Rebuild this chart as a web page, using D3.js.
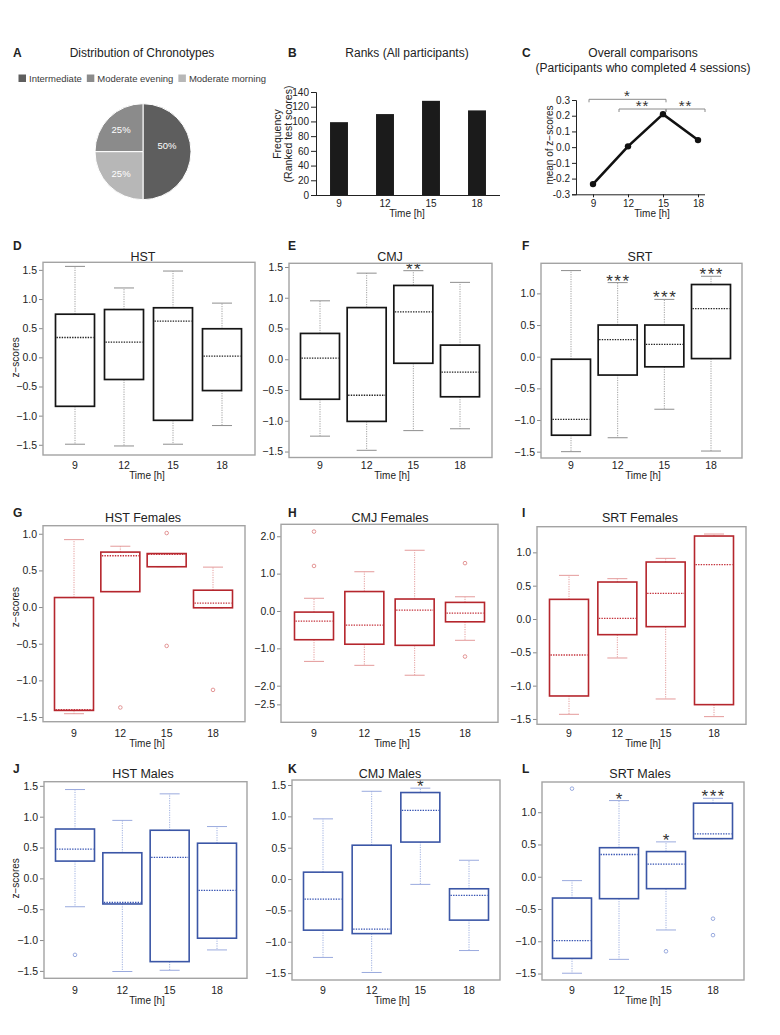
<!DOCTYPE html>
<html><head><meta charset="utf-8">
<script src="https://cdn.jsdelivr.net/npm/d3@7"></script>
<style>body{margin:0;background:#fff}</style>
</head><body><svg id="fig" width="780" height="1035"></svg>
<script>
// ---------------- DATA ----------------
const times = ["9","12","15","18"];
const chronotypes = ["Intermediate","Moderate evening","Moderate morning"];
const chronoShares = [50,25,25];
const rankFreq = [99,110,128,115];
const rankTicks = [0,20,40,60,80,100,120,140];
const meanZ = [-0.235,0.005,0.21,0.045];
const meanTicks = [-0.3,-0.2,-0.1,0,0.1,0.2,0.3];
const sigPairs = [["9","15","*"],["12","15","**"],["15","18","**"]];
// box stats: [lower whisker, Q1, median, Q3, upper whisker]
const hstAll = [[-1.49,-0.84,0.34,0.74,1.56],[-1.52,-0.38,0.26,0.82,1.19],[-1.49,-1.08,0.62,0.85,1.48],[-1.17,-0.57,0.02,0.49,0.93]];
const cmjAll = [[-1.25,-0.65,0.02,0.42,0.95],[-1.48,-1.01,-0.585,0.84,1.40],[-1.16,-0.065,0.77,1.20,1.44],[-1.13,-0.61,-0.21,0.23,1.25]];
const srtAll = [[-1.50,-1.24,-0.99,-0.04,1.36],[-1.28,-0.29,0.27,0.50,1.17],[-0.83,-0.16,0.195,0.50,0.905],[-1.49,-0.03,0.76,1.14,1.27]];
const hstF = [[-1.455,-1.41,-1.40,0.13,0.92],[0.21,0.21,0.70,0.75,0.83],[0.55,0.55,0.72,0.73,0.73],[-0.01,-0.01,0.055,0.23,0.545]];
const hstFOut = [[],[-1.37],[1.01,-0.53],[-1.13]];
const cmjF = [[-1.35,-0.77,-0.27,-0.03,0.34],[-1.455,-0.89,-0.38,0.52,1.05],[-1.72,-0.92,0.02,0.32,1.625],[-0.785,-0.29,-0.06,0.23,0.38]];
const cmjFOut = [[2.125,1.205],[],[],[1.28,-1.22]];
const srtF = [[-1.43,-1.155,-0.54,0.295,0.655],[-0.585,-0.235,0.01,0.555,0.605],[-1.2,-0.115,0.385,0.855,0.91],[-1.465,-1.285,0.815,1.245,1.275]];
const hstM = [[-0.46,0.28,0.475,0.80,1.44],[-1.51,-0.415,-0.39,0.415,0.94],[-1.49,-1.35,0.34,0.78,1.37],[-1.16,-0.97,-0.195,0.57,0.84]];
const hstMOut = [[-1.24],[],[],[]];
const cmjM = [[-1.25,-0.815,-0.32,0.11,0.96],[-1.49,-0.87,-0.80,0.54,1.40],[-0.085,0.59,1.095,1.38,1.45],[-1.14,-0.655,-0.26,-0.155,0.30]];
const srtM = [[-1.495,-1.265,-0.99,-0.33,-0.06],[-1.28,-0.34,0.345,0.45,1.18],[-0.825,-0.185,0.195,0.39,0.54],[0.59,0.59,0.665,1.14,1.215]];
const srtMOut = [[1.365],[],[-1.155],[-0.65,-0.905]];
const cmjAllStars = ["","","**",""];
const srtAllStars = ["","***","***","***"];
const cmjMStars = ["","","*",""];
const srtMStars = ["","*","*","***"];
const zTicks = [-1.5,-1,-0.5,0,0.5,1,1.5];
const zTicksCmjF = [-2.5,-2,-1,0,1,2];

// ---------------- HELPERS ----------------
const FONT = '"Liberation Sans", Arial, Helvetica, sans-serif';
const svg = d3.select("#fig").attr("font-family", FONT);
function txt(g, x, y, s, o = {}) {
  const t = g.append("text").attr("x", x).attr("y", y).text(s)
    .attr("font-size", o.size || 10).attr("fill", o.fill || "#222")
    .attr("text-anchor", o.anchor || "middle");
  if (o.weight) t.attr("font-weight", o.weight);
  if (o.rotate) t.attr("transform", `rotate(-90,${x},${y})`);
  if (o.ls) t.attr("letter-spacing", o.ls);
  return t;
}
function styleAxis(ax, color, size) {
  ax.attr("font-family", FONT).attr("font-size", size);
  ax.select(".domain").attr("stroke", color);
  ax.selectAll(".tick line").attr("stroke", color);
  ax.selectAll(".tick text").attr("fill", "#222");
}
const hyphenFmt = d => d3.format(".1f")(d).replace("\u2212", "-");

// ---------------- PANEL A ----------------
const gA = svg.append("g");
txt(gA, 13, 56.5, "A", {size: 12, weight: "bold", anchor: "start"});
txt(gA, 142, 56.5, "Distribution of Chronotypes", {size: 12});
const pieColor = d3.scaleOrdinal().domain(chronotypes).range(["#5e5e5e", "#8b8b8b", "#b7b7b7"]);
let lx = 18.5;
chronotypes.forEach(c => {
  gA.append("rect").attr("x", lx).attr("y", 74.5).attr("width", 7.5).attr("height", 7.5).attr("fill", pieColor(c));
  const t = txt(gA, lx + 10.5, 82, c, {size: 9.5, anchor: "start", fill: "#3a3a3a"});
  lx = lx + 10.5 + t.node().getComputedTextLength() + 5;
});
const R = 48;
const pieGen = d3.pie().sort(null).value(d => d).startAngle(Math.PI).endAngle(-Math.PI);
const arcs = pieGen(chronoShares);
const arcG = d3.arc().innerRadius(0).outerRadius(R);
const gP = gA.append("g").attr("transform", "translate(143,151.7)");
gP.selectAll("path").data(arcs).join("path").attr("d", arcG)
  .attr("fill", (d, i) => pieColor(chronotypes[i])).attr("stroke", "#fff").attr("stroke-width", 1);
gP.selectAll("text").data(arcs).join("text")
  .attr("transform", d => {
    const lr = d.data >= 50 ? 24 : 31;
    const c = d3.arc().innerRadius(lr).outerRadius(lr).centroid(d);
    return `translate(${c[0]},${c[1] - (d.data >= 50 ? 6 : 0)})`;
  })
  .attr("dy", "0.35em").attr("text-anchor", "middle").attr("font-size", 9.5).attr("fill", "#fff")
  .text(d => d.data + "%");

// ---------------- PANEL B ----------------
const gB = svg.append("g");
txt(gB, 288, 56.5, "B", {size: 12, weight: "bold", anchor: "start"});
txt(gB, 407, 56.5, "Ranks (All participants)", {size: 12});
const xB = d3.scaleBand().domain(times).range([316, 500]).paddingInner(0.61).paddingOuter(0.305);
const yB = d3.scaleLinear().domain([0, 140]).range([195, 92]);
gB.selectAll("rect.bar").data(rankFreq).join("rect").attr("class", "bar")
  .attr("x", (d, i) => xB(times[i])).attr("width", xB.bandwidth())
  .attr("y", d => yB(d)).attr("height", d => yB(0) - yB(d)).attr("fill", "#1b1b1b");
const axB = gB.append("g").attr("transform", "translate(316,0)")
  .call(d3.axisLeft(yB).tickValues(rankTicks).tickSize(5).tickPadding(2));
styleAxis(axB, "#222", 10);
gB.append("line").attr("x1", 316).attr("x2", 500).attr("y1", yB(0) + 0.5).attr("y2", yB(0) + 0.5).attr("stroke", "#222");
times.forEach(t => txt(gB, xB(t) + xB.bandwidth() / 2, 206.5, t, {size: 10}));
txt(gB, 407, 217, "Time [h]", {size: 10});
txt(gB, 281, 134, "Frequency", {size: 10.5, rotate: true});
txt(gB, 291.5, 134, "(Ranked test scores)", {size: 10.5, rotate: true});

// ---------------- PANEL C ----------------
const gC = svg.append("g");
txt(gC, 522, 56.5, "C", {size: 12, weight: "bold", anchor: "start"});
txt(gC, 643, 56.5, "Overall comparisons", {size: 12});
txt(gC, 643, 71.5, "(Participants who completed 4 sessions)", {size: 12});
const xC = d3.scalePoint().domain(times).range([593, 698]);
const yC = d3.scaleLinear().domain([-0.3, 0.3]).range([194.3, 100]);
const axC = gC.append("g").attr("transform", "translate(576,0)")
  .call(d3.axisLeft(yC).tickValues(meanTicks).tickSize(4).tickPadding(2).tickFormat(hyphenFmt));
styleAxis(axC, "#222", 10);
const axCx = gC.append("g").attr("transform", `translate(0,${yC(-0.3)})`)
  .call(d3.axisBottom(xC).tickSize(3).tickPadding(3));
styleAxis(axCx, "#222", 10);
axCx.select(".domain").attr("d", `M576,0.5H705`);
txt(gC, 652, 217, "Time [h]", {size: 10});
txt(gC, 553, 145, "mean of z\u2212scores", {size: 10, rotate: true});
gC.append("path").datum(meanZ)
  .attr("d", d3.line().x((d, i) => xC(times[i])).y(d => yC(d)))
  .attr("fill", "none").attr("stroke", "#111").attr("stroke-width", 2.6);
gC.selectAll("circle").data(meanZ).join("circle")
  .attr("cx", (d, i) => xC(times[i])).attr("cy", d => yC(d)).attr("r", 3.2).attr("fill", "#111");
const sigLayout = [{lvl: 0, a: -4, b: 3}, {lvl: 1, a: -9, b: 3}, {lvl: 1, a: 3, b: 7}];
sigPairs.forEach((s, i) => {
  const L = sigLayout[i];
  const yy = yC(0.3) - 0.7 + L.lvl * 9.7;
  const x1 = xC(s[0]) + L.a, x2 = xC(s[1]) + L.b;
  gC.append("path").attr("d", `M${x1},${yy + 3}V${yy}H${x2}V${yy + 3}`)
    .attr("fill", "none").attr("stroke", "#8a8a8a").attr("stroke-width", 1);
  txt(gC, (x1 + x2) / 2, yy + 2, s[2], {size: 15, fill: "#333", ls: 1});
});

// ---------------- BOX PANELS ----------------
const themes = {
  black: {box: "#151515", whisker: "#a0a0a0", cap: "#8e8e8e", median: "#222", out: "#888", bw: 1.7},
  red: {box: "#b5262d", whisker: "#e39c9c", cap: "#e49a9a", median: "#c4303a", out: "#e08a8a", bw: 1.6},
  blue: {box: "#3b56a6", whisker: "#9fb0e0", cap: "#9aaade", median: "#3552b2", out: "#8ea2da", bw: 1.6}
};
const rows = [
  {letterY: 250, titleY: 260.5, tickY: 468.5, timeY: 478.5},
  {letterY: 517, titleY: 521.5, tickY: 736.5, timeY: 746.5},
  {letterY: 773, titleY: 777.5, tickY: 993.5, timeY: 1004}
];
const letterX = [13, 288, 522], titleX = [143, 390, 640], timeX = [147, 392, 643];
const boxPanels = [
  {L: "D", title: "HST", data: hstAll, theme: "black", col: 0, row: 0, fx: [43, 255], fy: [262.3, 455], cx: [75, 222], dom: [-1.675, 1.63], ylab: true},
  {L: "E", title: "CMJ", data: cmjAll, stars: cmjAllStars, theme: "black", col: 1, row: 0, fx: [289, 492], fy: [263.3, 457.5], cx: [320, 460], dom: [-1.597, 1.56]},
  {L: "F", title: "SRT", data: srtAll, stars: srtAllStars, theme: "black", col: 2, row: 0, fx: [541, 742], fy: [263.3, 458], cx: [571, 711], dom: [-1.6, 1.475]},
  {L: "G", title: "HST Females", data: hstF, out: hstFOut, theme: "red", col: 0, row: 1, fx: [43, 245], fy: [525.7, 721.7], cx: [74, 213], dom: [-1.564, 1.11], ylab: true},
  {L: "H", title: "CMJ Females", data: cmjF, out: cmjFOut, theme: "red", col: 1, row: 1, fx: [281, 498], fy: [524.3, 722.3], cx: [314, 465], dom: [-2.98, 2.32], ticks: zTicksCmjF},
  {L: "I", title: "SRT Females", data: srtF, theme: "red", col: 2, row: 1, fx: [537, 746], fy: [526.7, 724.3], cx: [569, 714], dom: [-1.58, 1.385]},
  {L: "J", title: "HST Males", data: hstM, out: hstMOut, theme: "blue", col: 0, row: 2, fx: [44, 247], fy: [781.7, 978.3], cx: [75, 217], dom: [-1.62, 1.567], ylab: true},
  {L: "K", title: "CMJ Males", data: cmjM, stars: cmjMStars, theme: "blue", col: 1, row: 2, fx: [292, 500], fy: [780, 980], cx: [323, 469], dom: [-1.61, 1.58]},
  {L: "L", title: "SRT Males", data: srtM, out: srtMOut, stars: srtMStars, theme: "blue", col: 2, row: 2, fx: [542, 744], fy: [782, 980], cx: [572, 713], dom: [-1.60, 1.468]}
];

function drawBox(p) {
  const g = svg.append("g");
  const th = themes[p.theme];
  const rw = rows[p.row];
  const y = d3.scaleLinear().domain(p.dom).range([p.fy[1], p.fy[0]]);
  const x = d3.scalePoint().domain(times).range(p.cx);
  const ticks = (p.ticks || zTicks).filter(t => t >= p.dom[0] && t <= p.dom[1]);
  const ax = g.append("g").attr("transform", `translate(${p.fx[0]},0)`)
    .call(d3.axisLeft(y).tickValues(ticks).tickSize(4).tickPadding(2).tickFormat(d3.format(".1f")));
  styleAxis(ax, "#8a8a8a", 10.5);
  ax.select(".domain").remove();
  times.forEach(t => txt(g, x(t), rw.tickY, t, {size: 10.5}));
  txt(g, timeX[p.col], rw.timeY, "Time [h]", {size: 10});
  txt(g, titleX[p.col], rw.titleY, p.title, {size: 12.5});
  txt(g, letterX[p.col], rw.letterY, p.L, {size: 12, weight: "bold", anchor: "start"});
  if (p.ylab) txt(g, 19.5, y(0), "z\u2212scores", {size: 10, rotate: true});

  const bw = 39, cw = 20;
  const box = g.selectAll("g.box").data(p.data).join("g").attr("class", "box")
    .attr("transform", (d, i) => `translate(${x(times[i])},0)`);
  // whiskers
  box.append("line").attr("y1", d => y(d[3])).attr("y2", d => y(d[4]))
    .attr("stroke", th.whisker).attr("stroke-dasharray", "1.2,1.2");
  box.append("line").attr("y1", d => y(d[1])).attr("y2", d => y(d[0]))
    .attr("stroke", th.whisker).attr("stroke-dasharray", "1.2,1.2");
  // caps
  box.append("line").attr("x1", -cw / 2).attr("x2", cw / 2).attr("y1", d => y(d[4])).attr("y2", d => y(d[4]))
    .attr("stroke", th.cap);
  box.append("line").attr("x1", -cw / 2).attr("x2", cw / 2).attr("y1", d => y(d[0])).attr("y2", d => y(d[0]))
    .attr("stroke", th.cap);
  // box
  box.append("rect").attr("x", -bw / 2).attr("width", bw)
    .attr("y", d => y(d[3])).attr("height", d => Math.max(0.5, y(d[1]) - y(d[3])))
    .attr("fill", "none").attr("stroke", th.box).attr("stroke-width", th.bw);
  // median
  box.append("line").attr("x1", -bw / 2 + 1).attr("x2", bw / 2 - 1).attr("y1", d => y(d[2])).attr("y2", d => y(d[2]))
    .attr("stroke", th.median).attr("stroke-width", 1.3).attr("stroke-dasharray", "1.4,1.2");
  // outliers
  if (p.out) {
    box.each(function (d, i) {
      d3.select(this).selectAll("circle").data(p.out[i]).join("circle")
        .attr("cx", 0).attr("cy", v => y(v)).attr("r", 1.8)
        .attr("fill", "none").attr("stroke", th.out).attr("stroke-width", 0.9);
    });
  }
  // stars
  if (p.stars) {
    box.append("text").attr("text-anchor", "middle").attr("font-size", 17).attr("letter-spacing", 1.5)
      .attr("fill", "#333").attr("x", 0.75).attr("y", d => y(d[4]) + 4)
      .text((d, i) => p.stars[i]);
  }
  // frame
  g.append("rect").attr("x", p.fx[0]).attr("y", p.fy[0]).attr("width", p.fx[1] - p.fx[0])
    .attr("height", p.fy[1] - p.fy[0]).attr("fill", "none").attr("stroke", "#a3a3a3").attr("stroke-width", 1.4);
}
boxPanels.forEach(drawBox);
</script>
</body></html>
